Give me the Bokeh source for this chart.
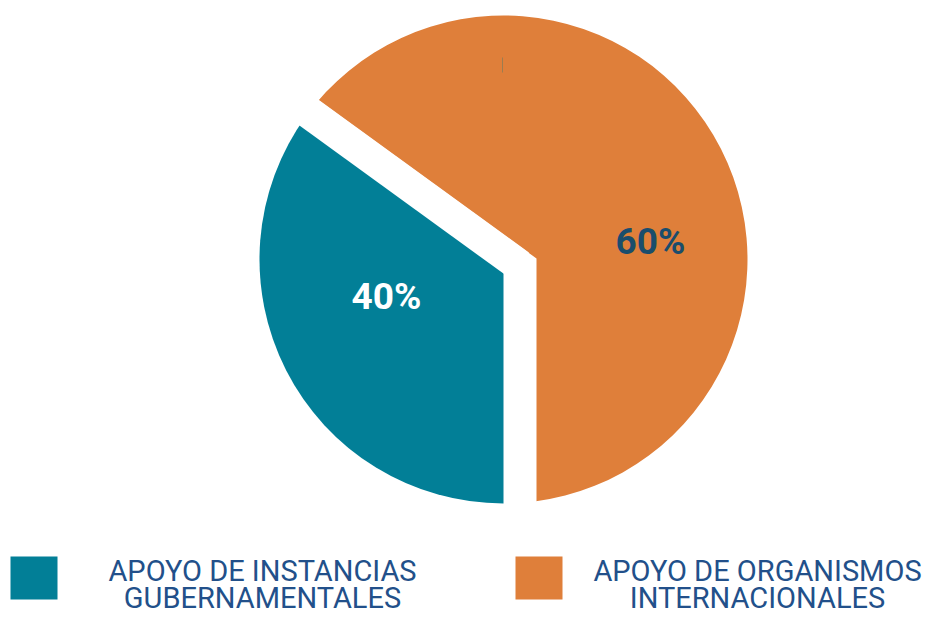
from bokeh.plotting import figure
from bokeh.models import Range1d
from bokeh.embed import file_html
from bokeh.resources import INLINE
from bokeh.core.properties import value

# ---- data ----
categories = ["APOYO DE ORGANISMOS INTERNACIONALES", "APOYO DE INSTANCIAS GUBERNAMENTALES"]
label_pct = [60, 40]             # printed labels
slice_share = [65, 35]           # slice sizes as drawn in the picture
slice_colors = ["#df7f3a", "#027f97"]
label_colors = ["#1a4d6c", "#ffffff"]
legend_order = [1, 0]            # teal item left, orange item right
legend_lines = [["APOYO DE INSTANCIAS", "GUBERNAMENTALES"],
                ["APOYO DE ORGANISMOS", "INTERNACIONALES"]]

W, H = 923, 618
p = figure(width=W, height=H, output_backend="svg", toolbar_location=None,
           x_range=Range1d(0, W), y_range=Range1d(0, H), min_border=0,
           x_axis_location=None, y_axis_location=None)
p.grid.visible = False
p.outline_line_color = None
p.background_fill_color = "white"

# pie geometry
cx, cy, R = 503, 359, 244
start = -90.0
angles = []
a = start
for s in slice_share:
    b = a + s / sum(slice_share) * 360.0
    angles.append((a, b))
    a = b

(o_start, o_end), (t_start, t_end) = angles

# orange slice
p.wedge(x=[cx], y=[cy], radius=R, start_angle=[o_start], end_angle=[o_end],
        start_angle_units="deg", end_angle_units="deg", direction="anticlock",
        fill_color=slice_colors[0], line_color=None)
# white gap cut out of the orange slice
gx, gy = cx + 33, cy + 1
p.wedge(x=[gx], y=[gy], radius=300, start_angle=[t_start], end_angle=[t_end],
        start_angle_units="deg", end_angle_units="deg", direction="anticlock",
        fill_color="white", line_color=None)
# teal slice
p.wedge(x=[cx], y=[cy], radius=R, start_angle=[t_start], end_angle=[t_end],
        start_angle_units="deg", end_angle_units="deg", direction="anticlock",
        fill_color=slice_colors[1], line_color=None)
# diagonal white gap band
p.ray(x=[cx + 16], y=[cy - 6], length=320, angle=[t_start], angle_units="deg",
      line_color="white", line_width=32, line_cap="butt")

# tiny artifact stroke
p.segment(x0=[cx - 1], y0=[cy + 187], x1=[cx - 1], y1=[cy + 202],
          line_color="#8c7c55", line_width=1, line_alpha=0.8)

# percentage labels
lab_pos = [(cx + 147, cy + 18), (cx - 117, cy - 37)]
for i in range(2):
    p.text(x=[lab_pos[i][0]], y=[lab_pos[i][1]], text=[f"{label_pct[i]}%"],
           text_font=value("Roboto"), text_font_size="37px", text_font_style="bold",
           text_color=label_colors[i], text_align="center", text_baseline="alphabetic")

# legend
for j, idx in enumerate(legend_order):
    sq_x = 33.5 + j * 505
    p.rect(x=[sq_x], y=[40.5], width=47, height=43,
           fill_color=slice_colors[idx], line_color=None)
    tx = 262 + j * 495
    for k, line in enumerate(legend_lines[j]):
        p.text(x=[tx], y=[48 - 27 * k], text=[line],
               text_font=value("Roboto"), text_font_size="29px",
               text_color="#22508a", text_align="center", text_baseline="alphabetic")

open("out.html", "w").write(file_html(p, INLINE))
